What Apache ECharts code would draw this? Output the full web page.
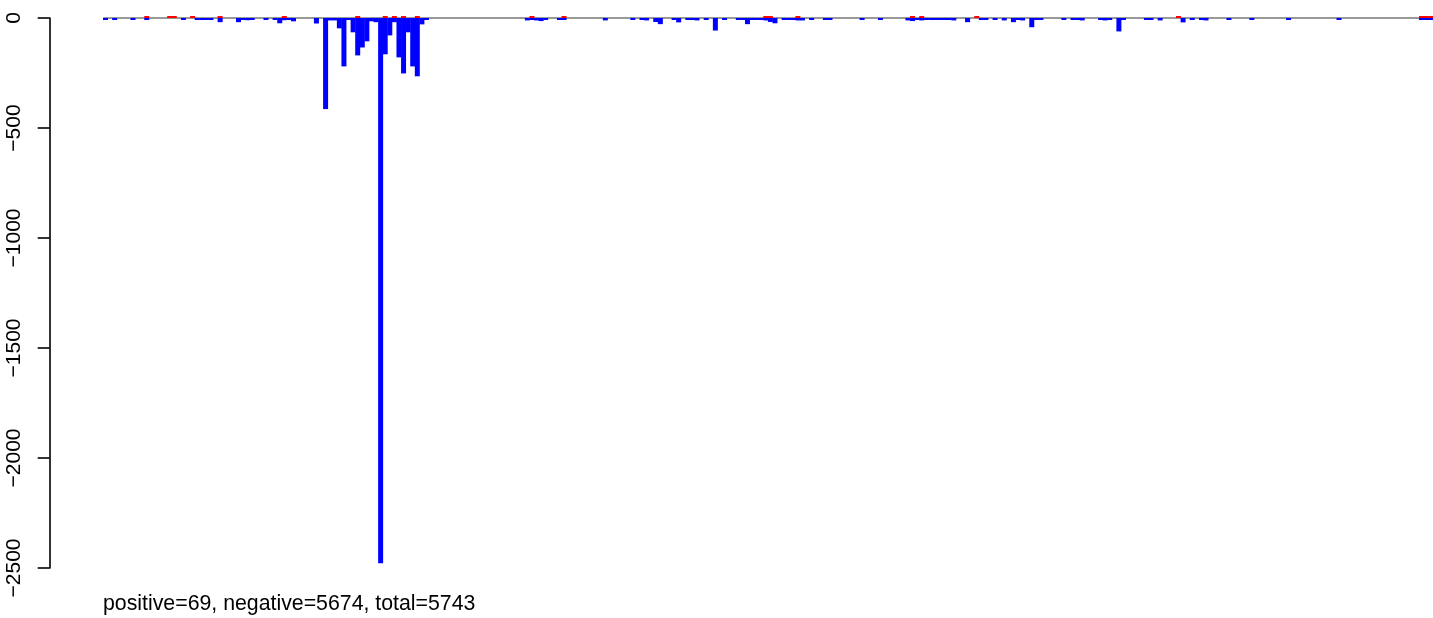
<!DOCTYPE html>
<html>
<head>
<meta charset="utf-8">
<script src="https://cdn.jsdelivr.net/npm/echarts@6/dist/echarts.min.js"></script>
<style>
html,body{margin:0;padding:0;background:#fff;}
#chart{width:1433px;height:618px;}
</style>
</head>
<body>
<div id="chart"></div>
<script>
// Negative counts per bin (blue, drawn downward)
const negValues = [
  -5, 0, -5, 0, 0, 0, -5, 0, 0, -5,
  0, 0, 0, 0, 0, 0, 0, -5, 0, 0,
  -4, -4, -4, -6, 0, -19, 0, 0, 0, -19,
  -5, -10, -5, 0, 0, -5, 0, -4, -24, -10,
  -5, -15, 0, 0, 0, 0, -25, 0, -414, -11,
  -11, -47, -220, -5, -65, -170, -134, -106, -15, -19,
  -2478, -165, -79, -19, -179, -252, -65, -220, -265, -29,
  -4, 0, 0, 0, 0, 0, 0, 0, 0, 0,
  0, 0, 0, 0, 0, 0, 0, 0, 0, 0,
  0, 0, -11, -3, -11, -14, -4, 0, 0, -4,
  -3, 0, 0, 0, 0, 0, 0, 0, 0, -11,
  0, 0, 0, 0, 0, -4, 0, -4, -11, 0,
  -18, -28, 0, 0, -4, -20, 0, -4, -4, -11,
  0, -4, 0, -57, 0, -4, 0, 0, -4, -4,
  -28, -4, -4, -4, -11, -18, -24, 0, -4, -4,
  -4, -11, -11, 0, -4, 0, 0, -4, -4, 0,
  0, 0, 0, 0, 0, -4, 0, 0, 0, -4,
  0, 0, 0, 0, 0, -11, -14, -4, -11, -4,
  -4, -4, -4, -4, -4, -11, 0, 0, -19, 0,
  0, -4, -4, 0, -4, 0, -11, 0, -19, -4,
  -11, 0, -42, -4, -4, 0, 0, 0, 0, -4,
  0, -4, -4, -11, 0, 0, 0, -4, -11, -4,
  0, -61, -4, 0, 0, 0, 0, -4, -4, 0,
  -11, 0, 0, 0, 0, -20, 0, -4, 0, -4,
  -11, 0, 0, 0, 0, -4, 0, 0, 0, 0,
  -4, 0, 0, 0, 0, 0, 0, 0, -4, 0,
  0, 0, 0, 0, 0, 0, 0, 0, 0, -4,
  0, 0, 0, 0, 0, 0, 0, 0, 0, 0,
  0, 0, 0, 0, 0, 0, 0, -3, -3, -3
];
// Positive counts per bin (red, drawn upward)
const posValues = [
  0, 0, 0, 0, 0, 0, 0, 0, 0, 3,
  0, 0, 0, 0, 2, 2, 0, 0, 0, 3,
  0, 0, 0, 0, 0, 3, 0, 0, 0, 0,
  0, 0, 0, 0, 0, 0, 0, 0, 0, 3,
  0, 0, 0, 0, 0, 0, 0, 0, 0, 0,
  0, 0, 0, 0, 0, 3, 0, 0, 0, 0,
  0, 3, 0, 3, 0, 3, 0, 0, 3, 0,
  0, 0, 0, 0, 0, 0, 0, 0, 0, 0,
  0, 0, 0, 0, 0, 0, 0, 0, 0, 0,
  0, 0, 0, 3, 0, 0, 0, 0, 0, 0,
  3, 0, 0, 0, 0, 0, 0, 0, 0, 0,
  0, 0, 0, 0, 0, 0, 0, 0, 0, 0,
  0, 0, 0, 0, 0, 0, 0, 0, 0, 0,
  0, 0, 0, 0, 0, 0, 0, 0, 0, 0,
  0, 0, 0, 0, 3, 6, 0, 0, 0, 0,
  0, 3, 0, 0, 0, 0, 0, 0, 0, 0,
  0, 0, 0, 0, 0, 0, 0, 0, 0, 0,
  0, 0, 0, 0, 0, 0, 3, 0, 3, 0,
  0, 0, 0, 0, 0, 0, 0, 0, 0, 0,
  3, 0, 0, 0, 0, 0, 0, 0, 0, 0,
  0, 0, 0, 0, 0, 0, 0, 0, 0, 0,
  0, 0, 0, 0, 0, 0, 0, 0, 0, 0,
  0, 0, 0, 0, 0, 0, 0, 0, 0, 0,
  0, 0, 0, 0, 3, 0, 0, 0, 0, 0,
  0, 0, 0, 0, 0, 0, 0, 0, 0, 0,
  0, 0, 0, 0, 0, 0, 0, 0, 0, 0,
  0, 0, 0, 0, 0, 0, 0, 0, 0, 0,
  0, 0, 0, 0, 0, 0, 0, 0, 0, 0,
  0, 0, 0, 0, 0, 0, 0, 3, 3, 2
];
const categories = negValues.map((_, i) => String(i + 1));
const yTicks = { min: -2500, max: 0, interval: 500 };
const summaryText = 'positive=69, negative=5674, total=5743';

const chart = echarts.init(document.getElementById('chart'), null, { renderer: 'canvas' });
const FONT = '"Liberation Sans", Arial, Helvetica, sans-serif';
const toData = arr => arr.map(v => (v === 0 ? null : v));

chart.setOption({
  animation: false,
  backgroundColor: '#ffffff',
  grid: { left: 103.2, top: 18, width: 1332.8, height: 550, containLabel: false },
  xAxis: {
    type: 'category',
    data: categories,
    show: false,
    boundaryGap: true
  },
  yAxis: {
    type: 'value',
    min: yTicks.min,
    max: yTicks.max,
    interval: yTicks.interval,
    offset: 53.5,
    axisLine: { show: true, lineStyle: { color: '#000', width: 1.6 } },
    axisTick: { show: true, length: 12, lineStyle: { color: '#000', width: 1.6 } },
    splitLine: { show: false },
    axisLabel: {
      rotate: 90,
      margin: 25,
      color: '#000',
      fontSize: 21,
      fontFamily: FONT,
      formatter: v => String(v).replace('-', '\u2212')
    }
  },
  series: [
    {
      name: 'negative',
      type: 'bar',
      data: toData(negValues),
      barWidth: 5,
      barGap: '-100%',
      barMinHeight: 2,
      clip: false,
      itemStyle: { color: '#0000ff' },
      z: 10,
      markLine: {
        silent: true,
        symbol: ['none', 'none'],
        label: { show: false },
        lineStyle: { color: '#999999', width: 2, type: 'solid' },
        data: [{ yAxis: 0 }],
        z: 5
      }
    },
    {
      name: 'positive',
      type: 'bar',
      data: toData(posValues),
      barWidth: 5,
      barGap: '-100%',
      barMinHeight: 2,
      clip: false,
      itemStyle: { color: '#ff0000' },
      z: 11
    }
  ],
  graphic: [
    {
      type: 'text',
      left: 103,
      top: 594,
      style: {
        text: summaryText,
        fontSize: 21.3,
        fontFamily: FONT,
        fill: '#000'
      }
    }
  ]
});
</script>
</body>
</html>
